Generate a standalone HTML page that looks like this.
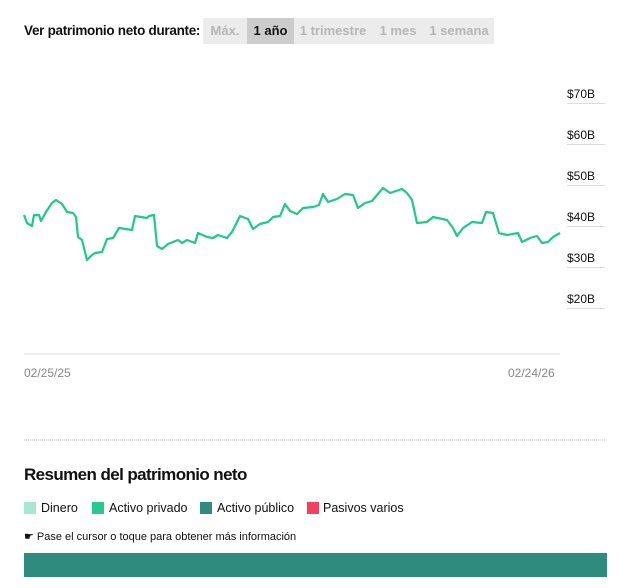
<!DOCTYPE html>
<html><head><meta charset="utf-8"><style>
body{margin:0;width:640px;height:588px;background:#fff;font-family:"Liberation Sans",sans-serif;position:relative;overflow:hidden}
.a{position:absolute;white-space:nowrap}
.tog{position:absolute;top:18px;height:26px;line-height:26px;font-size:13px;font-weight:bold;color:#b5b5b5;text-align:center;background:#ececec}
.yl{position:absolute;left:567px;font-size:12px;color:#111}
.yt{position:absolute;left:567px;width:38px;height:1px;background:#ddd}
.sw{position:absolute;top:502px;width:12px;height:12px}
.lg{position:absolute;top:501px;font-size:12.5px;color:#111}
</style></head><body>
<div class="a" style="left:24px;top:23px;font-size:13.5px;font-weight:bold;letter-spacing:-0.3px;color:#111">Ver patrimonio neto durante:</div>
<div class="tog" style="left:203px;width:44px">Máx.</div>
<div class="tog" style="left:247px;width:47px;background:#ccc;color:#111">1 año</div>
<div class="tog" style="left:294px;width:78px">1 trimestre</div>
<div class="tog" style="left:372px;width:52px">1 mes</div>
<div class="tog" style="left:424px;width:70px">1 semana</div>

<div class="yl" style="top:87px">$70B</div><div class="yt" style="top:103px"></div>
<div class="yl" style="top:128px">$60B</div><div class="yt" style="top:144px"></div>
<div class="yl" style="top:169px">$50B</div><div class="yt" style="top:185px"></div>
<div class="yl" style="top:210px">$40B</div><div class="yt" style="top:226px"></div>
<div class="yl" style="top:251px">$30B</div><div class="yt" style="top:267px"></div>
<div class="yl" style="top:292px">$20B</div><div class="yt" style="top:308px"></div>

<svg class="a" style="left:0;top:0" width="640" height="588">
<line x1="24" y1="354" x2="560" y2="354" stroke="#ddd" stroke-width="1"/>
<polyline fill="none" stroke="#1ec98a" stroke-width="2.2" stroke-linejoin="round" points="24,215 27,223 32,226 34,215 39,215 41,221 46,212 52,203 56,200 62,204 67,212 73,213 76,217 78,237 82,240 87,260 92,255 95,253 102,252 107,239 113,238 119,228 126,229 132,230 135,216 147,218 149,216 154,215 157,246 162,249 168,244 178,240 182,243 187,240 195,243 198,233 207,237 213,238 218,235 227,238 232,232 240,216 248,219 253,229 260,224 268,222 273,217 280,216 285,204 290,211 297,214 303,208 313,207 319,205 323,194 328,202 337,199 345,194 353,195 358,208 365,203 372,201 383,188 390,193 402,189 407,193 412,200 417,223 427,222 433,217 447,220 453,228 457,236 463,228 472,222 482,223 486,212 493,213 499,233 507,235 518,233 522,242 530,238 537,236 542,243 548,242 553,237 560,233"/>
<line x1="24" y1="440" x2="605" y2="440" stroke="#bbb" stroke-width="1" stroke-dasharray="1,1"/>
</svg>
<div class="a" style="left:24px;top:366px;font-size:12px;color:#888">02/25/25</div>
<div class="a" style="left:508px;top:366px;font-size:12px;color:#888">02/24/26</div>

<div class="a" style="left:24px;top:465px;font-size:17px;font-weight:bold;letter-spacing:-0.6px;color:#111">Resumen del patrimonio neto</div>

<div class="sw" style="left:24px;background:#a6e8d2"></div><div class="lg" style="left:41px">Dinero</div>
<div class="sw" style="left:92px;background:#27c98f"></div><div class="lg" style="left:109px">Activo privado</div>
<div class="sw" style="left:200px;background:#2e8b7e"></div><div class="lg" style="left:217px">Activo público</div>
<div class="sw" style="left:307px;background:#f1415c"></div><div class="lg" style="left:323px">Pasivos varios</div>

<div class="a" style="left:24px;top:530px;font-size:11px;color:#111">☛ Pase el cursor o toque para obtener más información</div>
<div class="a" style="left:24px;top:553px;width:583px;height:24px;background:#2e8b7e"></div>
</body></html>
